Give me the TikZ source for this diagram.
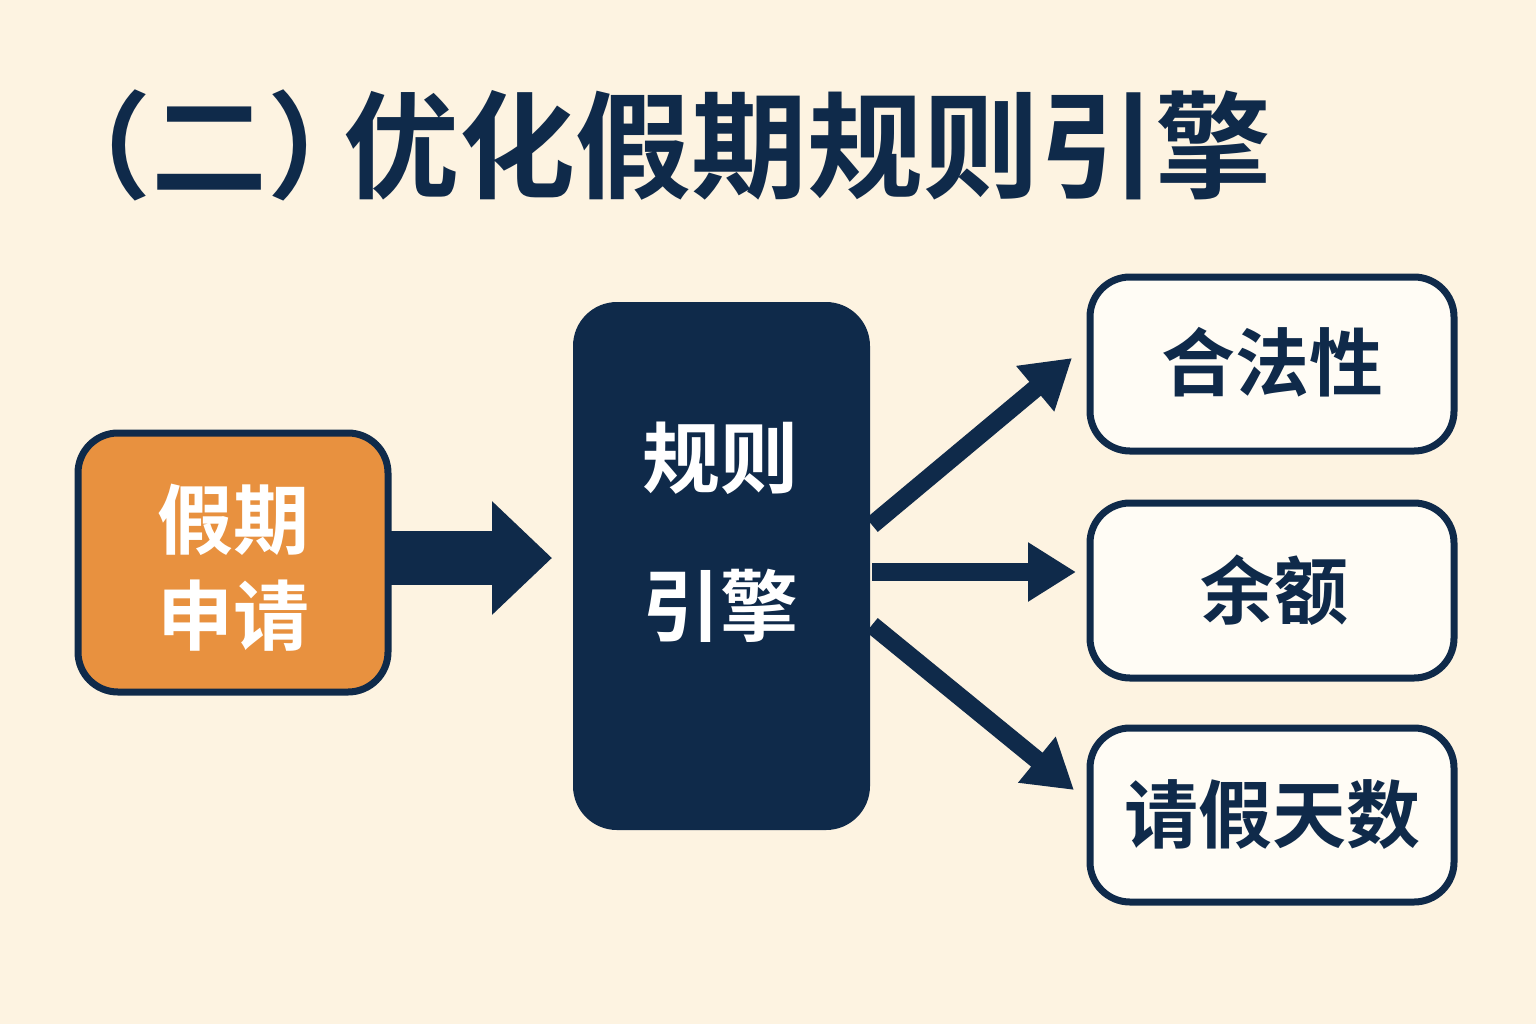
\documentclass[tikz,border=0pt]{standalone}
\usepackage{fontspec}
\setmainfont{Noto Sans CJK SC}[BoldFont={* Bold}]
\newfontfamily\cjkb{Noto Sans CJK SC Bold}
\usetikzlibrary{arrows.meta}
\definecolor{bg}{HTML}{FDF3E1}
\definecolor{navy}{HTML}{0F2A4A}
\definecolor{org}{HTML}{E8913F}
\definecolor{boxw}{HTML}{FFFCF5}
\tikzset{
 px/.style={x=0.5pt,y=-0.5pt},
 outbox/.style={draw=navy,line width=3.5pt,fill=boxw,rounded corners=20pt},
 conn/.style={draw=navy,line width=9pt,-{Triangle[length=24pt,width=28pt]}},
}
\begin{document}
\begin{tikzpicture}[px]
\fill[bg] (0,0) rectangle (1536,1024);
\useasboundingbox (0,0) rectangle (1536,1024);
\node[text=navy,font=\cjkb\fontsize{58pt}{64pt}\selectfont,anchor=west,inner sep=0pt] (title) at (35,145) {（二）\kern-20pt 优化假期规则引擎};
\draw[outbox,fill=org] (78,433) rectangle (388,692);
\node[text=white,font=\cjkb\fontsize{38pt}{48pt}\selectfont,align=center] (req) at (233,568) {假期\\申请};
\coordinate (reqE) at (388,558);
\fill[navy,rounded corners=22pt] (573,302) rectangle (870,830);
\coordinate (engW) at (552,558);
\node[text=white,font=\cjkb\fontsize{39pt}{74pt}\selectfont,align=center] (eng) at (720,532) {规则\\引擎};
\draw[outbox] (1090,277) rectangle (1454,451);
\node[text=navy,font=\cjkb\fontsize{37pt}{40pt}\selectfont] (a) at (1272,362) {合法性};
\draw[outbox] (1090,503) rectangle (1454,678);
\node[text=navy,font=\cjkb\fontsize{37pt}{40pt}\selectfont] (b) at (1274,590) {余额};
\draw[outbox] (1090,728) rectangle (1454,902);
\node[text=navy,font=\cjkb\fontsize{37pt}{40pt}\selectfont] (c) at (1272,815) {请假天数};
\draw[navy,line width=27pt,-{Triangle[length=30pt,width=55pt]}] (reqE) -- (engW);
\draw[conn] (872,525) -- (1072,358);
\draw[conn] (872,572) -- (1076,572);
\draw[conn] (872,625) -- (1074,790);
\end{tikzpicture}
\end{document}
